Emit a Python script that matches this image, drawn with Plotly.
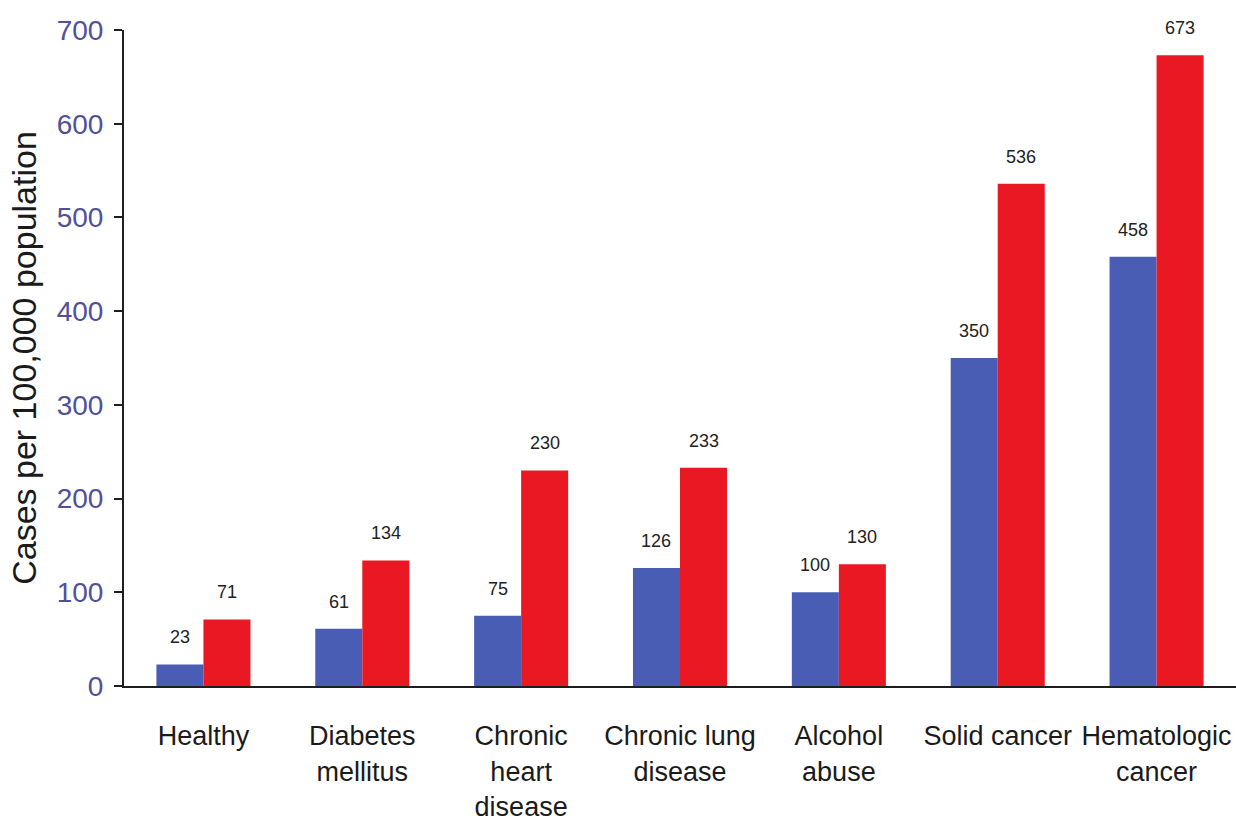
import plotly.graph_objects as go

# Incidence by underlying condition, two series per group
categories = [
    "Healthy",
    "Diabetes<br>mellitus",
    "Chronic<br>heart<br>disease",
    "Chronic lung<br>disease",
    "Alcohol<br>abuse",
    "Solid cancer",
    "Hematologic<br>cancer",
]
series_blue = [23, 61, 75, 126, 100, 350, 458]
series_red = [71, 134, 230, 233, 130, 536, 673]
y_ticks = [0, 100, 200, 300, 400, 500, 600, 700]

BLUE = "#4a5db5"
RED = "#ea1822"
AXIS = "#1e1e1e"
TICK_COLOR = "#50509a"
FONT = "Liberation Sans, Arial, sans-serif"

BARGAP = 0.408
half = (1 - BARGAP) / 4  # centre offset of each bar inside its group

fig = go.Figure()
fig.add_trace(go.Bar(x=categories, y=series_blue, marker_color=BLUE,
                     marker_line_width=0, showlegend=False))
fig.add_trace(go.Bar(x=categories, y=series_red, marker_color=RED,
                     marker_line_width=0, showlegend=False))

annotations = []
for i, (b, r) in enumerate(zip(series_blue, series_red)):
    for val, dx in ((b, -half), (r, half)):
        annotations.append(dict(
            x=i + dx, y=val, xref="x", yref="y", text=str(val),
            showarrow=False, yanchor="bottom", yshift=15,
            font=dict(family=FONT, size=18, color="#222222"),
        ))

fig.update_layout(
    width=1236, height=839,
    margin=dict(l=124, r=0, t=30, b=153, autoexpand=False),
    paper_bgcolor="white", plot_bgcolor="white",
    barmode="group", bargap=BARGAP, bargroupgap=0,
    annotations=annotations,
    xaxis=dict(
        type="category", range=[-0.5, 6.5],
        showline=True, linecolor=AXIS, linewidth=2,
        showgrid=False, ticks="", zeroline=False,
        tickangle=0, automargin=False,
        tickfont=dict(family=FONT, size=27, color="#1a1a1a"),
        ticklabelstandoff=25,
    ),
    yaxis=dict(
        range=[0, 700], tickvals=y_ticks,
        showline=True, linecolor=AXIS, linewidth=2,
        showgrid=False, zeroline=False, automargin=False,
        ticks="outside", ticklen=8, tickwidth=2, tickcolor=AXIS,
        tickfont=dict(family=FONT, size=28, color=TICK_COLOR),
        ticklabelstandoff=5,
        title=dict(text="Cases per 100,000 population",
                   font=dict(family=FONT, size=34, color="#1a1a1a"),
                   standoff=10),
    ),
)

fig.write_html("out.html")
